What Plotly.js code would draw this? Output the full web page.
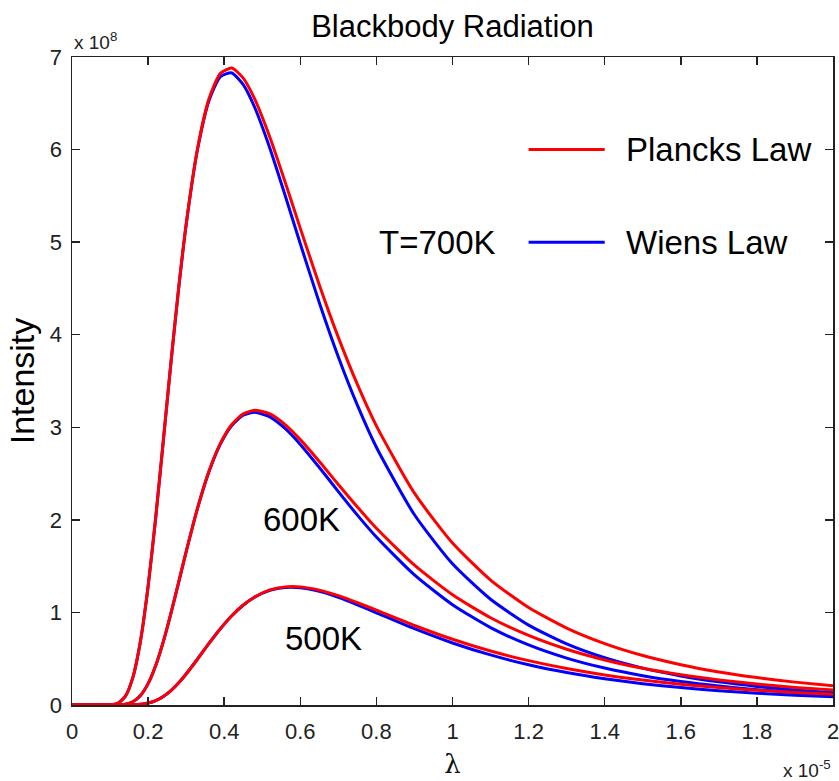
<!DOCTYPE html>
<html>
<head>
<meta charset="utf-8">
<script src="https://cdn.plot.ly/plotly-3.0.1.min.js"></script>
<style>html,body{margin:0;padding:0;background:#fff;}#chart{width:839px;height:781px;}</style>
</head>
<body>
<div id="chart"></div>
<script>
// wavelength (units of 1e-5 m)
const lambda = [0, 0.05, 0.1, 0.12, 0.14, 0.16, 0.18, 0.2, 0.22, 0.24, 0.26, 0.28, 0.3, 0.33, 0.36, 0.39, 0.42, 0.45, 0.48, 0.52, 0.56, 0.6, 0.65, 0.7, 0.75, 0.8, 0.9, 1.0, 1.1, 1.2, 1.3, 1.4, 1.5, 1.6, 1.7, 1.8, 1.9, 2.0];
// intensity (units of 1e8)
const planck700 = [0, 0, 0.001, 0.017, 0.093, 0.299, 0.692, 1.281, 2.025, 2.855, 3.698, 4.492, 5.192, 6.015, 6.550, 6.823, 6.880, 6.772, 6.547, 6.133, 5.651, 5.149, 4.538, 3.971, 3.463, 3.015, 2.288, 1.749, 1.350, 1.053, 0.831, 0.663, 0.534, 0.435, 0.357, 0.296, 0.247, 0.207];
const wien700   = [0, 0, 0.001, 0.017, 0.093, 0.299, 0.692, 1.281, 2.025, 2.854, 3.697, 4.489, 5.187, 6.003, 6.528, 6.788, 6.828, 6.701, 6.457, 6.015, 5.507, 4.982, 4.346, 3.760, 3.239, 2.784, 2.055, 1.525, 1.142, 0.863, 0.660, 0.510, 0.398, 0.314, 0.250, 0.201, 0.163, 0.133];
const planck600 = [0, 0, 0, 0.001, 0.008, 0.035, 0.103, 0.231, 0.427, 0.685, 0.990, 1.321, 1.656, 2.127, 2.524, 2.826, 3.030, 3.145, 3.184, 3.144, 3.029, 2.867, 2.631, 2.382, 2.139, 1.909, 1.510, 1.191, 0.943, 0.751, 0.602, 0.487, 0.397, 0.327, 0.271, 0.226, 0.190, 0.161];
const wien600   = [0, 0, 0, 0.001, 0.008, 0.035, 0.103, 0.231, 0.427, 0.685, 0.990, 1.320, 1.655, 2.126, 2.521, 2.820, 3.020, 3.130, 3.162, 3.113, 2.987, 2.815, 2.566, 2.305, 2.051, 1.814, 1.405, 1.083, 0.836, 0.649, 0.507, 0.399, 0.317, 0.254, 0.205, 0.166, 0.136, 0.112];
const planck500 = [0, 0, 0, 0, 0, 0.002, 0.007, 0.021, 0.048, 0.093, 0.156, 0.238, 0.335, 0.497, 0.665, 0.825, 0.965, 1.080, 1.167, 1.243, 1.276, 1.276, 1.241, 1.181, 1.106, 1.024, 0.859, 0.710, 0.583, 0.479, 0.394, 0.325, 0.270, 0.225, 0.189, 0.160, 0.136, 0.116];
const wien500   = [0, 0, 0, 0, 0, 0.002, 0.007, 0.021, 0.048, 0.093, 0.156, 0.238, 0.335, 0.497, 0.665, 0.824, 0.964, 1.078, 1.164, 1.238, 1.269, 1.266, 1.227, 1.162, 1.082, 0.996, 0.824, 0.670, 0.541, 0.435, 0.351, 0.284, 0.230, 0.188, 0.154, 0.127, 0.106, 0.088];

const xTicks = [0, 0.2, 0.4, 0.6, 0.8, 1, 1.2, 1.4, 1.6, 1.8, 2];
const xTickText = ['0', '0.2', '0.4', '0.6', '0.8', '1', '1.2', '1.4', '1.6', '1.8', '2'];
const yTicks = [0, 1, 2, 3, 4, 5, 6, 7];
const yTickText = ['0', '1', '2', '3', '4', '5', '6', '7'];

const legendNames = ['Plancks Law', 'Wiens Law'];
const tempLabels = ['T=700K', '600K', '500K'];

const RED = '#ff0000', BLUE = '#0000ff';
const FONT = 'Liberation Sans, Arial, Helvetica, sans-serif';

function tr(y, color, name, group) {
  return {x: lambda, y: y, type: 'scatter', mode: 'lines', name: name, legendgroup: group,
    showlegend: false, hoverinfo: 'skip',
    line: {color: color, width: 3, shape: 'spline', smoothing: 0.6}};
}
const data = [
  tr(wien500, BLUE, 'Wiens Law 500K', 'w'),
  tr(wien600, BLUE, 'Wiens Law 600K', 'w'),
  tr(wien700, BLUE, 'Wiens Law 700K', 'w'),
  tr(planck500, RED, 'Plancks Law 500K', 'p'),
  tr(planck600, RED, 'Plancks Law 600K', 'p'),
  tr(planck700, RED, 'Plancks Law 700K', 'p')
];

const axisCommon = {
  showgrid: false, zeroline: false, showline: true, linecolor: '#222', linewidth: 1.5,
  mirror: 'ticks', ticks: 'inside', ticklen: 8, tickwidth: 1.5, tickcolor: '#222',
  tickfont: {family: FONT, size: 22, color: '#222'}, tickmode: 'array', ticklabeloverflow: 'allow'
};

const layout = {
  width: 839, height: 781,
  margin: {l: 72, r: 6, t: 57, b: 76},
  paper_bgcolor: '#fff', plot_bgcolor: '#fff',
  showlegend: false,
  title: {text: 'Blackbody Radiation', font: {family: FONT, size: 31, color: '#000'},
    x: 0.5, xref: 'paper', y: 1 - 26/781, yref: 'container', yanchor: 'middle'},
  xaxis: Object.assign({}, axisCommon, {range: [0, 2], tickvals: xTicks, ticktext: xTickText,
    ticklabelstandoff: 6,
    title: {text: 'λ', font: {family: 'DejaVu Serif, Liberation Serif, serif', size: 26, color: '#111'}, standoff: 12}}),
  yaxis: Object.assign({}, axisCommon, {range: [0, 7], tickvals: yTicks, ticktext: yTickText,
    ticklabelstandoff: 4,
    title: {text: 'Intensity', font: {family: FONT, size: 34, color: '#000'}, standoff: 5}}),
  shapes: [
    {type: 'line', xref: 'x', yref: 'y', x0: 1.2, x1: 1.4, y0: 6.0, y1: 6.0, line: {color: RED, width: 3}},
    {type: 'line', xref: 'x', yref: 'y', x0: 1.2, x1: 1.4, y0: 5.0, y1: 5.0, line: {color: BLUE, width: 3}}
  ],
  annotations: [
    {text: legendNames[0], x: 1.45, y: 6.0, xref: 'x', yref: 'y', xanchor: 'left', yanchor: 'middle', showarrow: false,
      font: {family: FONT, size: 33, color: '#000'}},
    {text: legendNames[1], x: 1.45, y: 5.0, xref: 'x', yref: 'y', xanchor: 'left', yanchor: 'middle', showarrow: false,
      font: {family: FONT, size: 33, color: '#000'}},
    {text: tempLabels[0], x: 0.96, y: 5.0, xref: 'x', yref: 'y', xanchor: 'center', yanchor: 'middle', showarrow: false,
      font: {family: FONT, size: 33, color: '#000'}},
    {text: tempLabels[1], x: 0.604, y: 2.0, xref: 'x', yref: 'y', xanchor: 'center', yanchor: 'middle', showarrow: false,
      font: {family: FONT, size: 33, color: '#000'}},
    {text: tempLabels[2], x: 0.66, y: 0.72, xref: 'x', yref: 'y', xanchor: 'center', yanchor: 'middle', showarrow: false,
      font: {family: FONT, size: 33, color: '#000'}},
    {text: 'x 10<sup>8</sup>', x: 0, y: 1, xref: 'paper', yref: 'paper', xanchor: 'left', yanchor: 'bottom', yshift: 2, showarrow: false,
      font: {family: FONT, size: 19, color: '#222'}},
    {text: 'x 10<sup>-5</sup>', x: 1, y: 0, xref: 'paper', yref: 'paper', xanchor: 'right', yanchor: 'top', yshift: -50, showarrow: false,
      font: {family: FONT, size: 19, color: '#222'}}
  ]
};

Plotly.newPlot('chart', data, layout, {staticPlot: true, displayModeBar: false});
</script>
</body>
</html>
